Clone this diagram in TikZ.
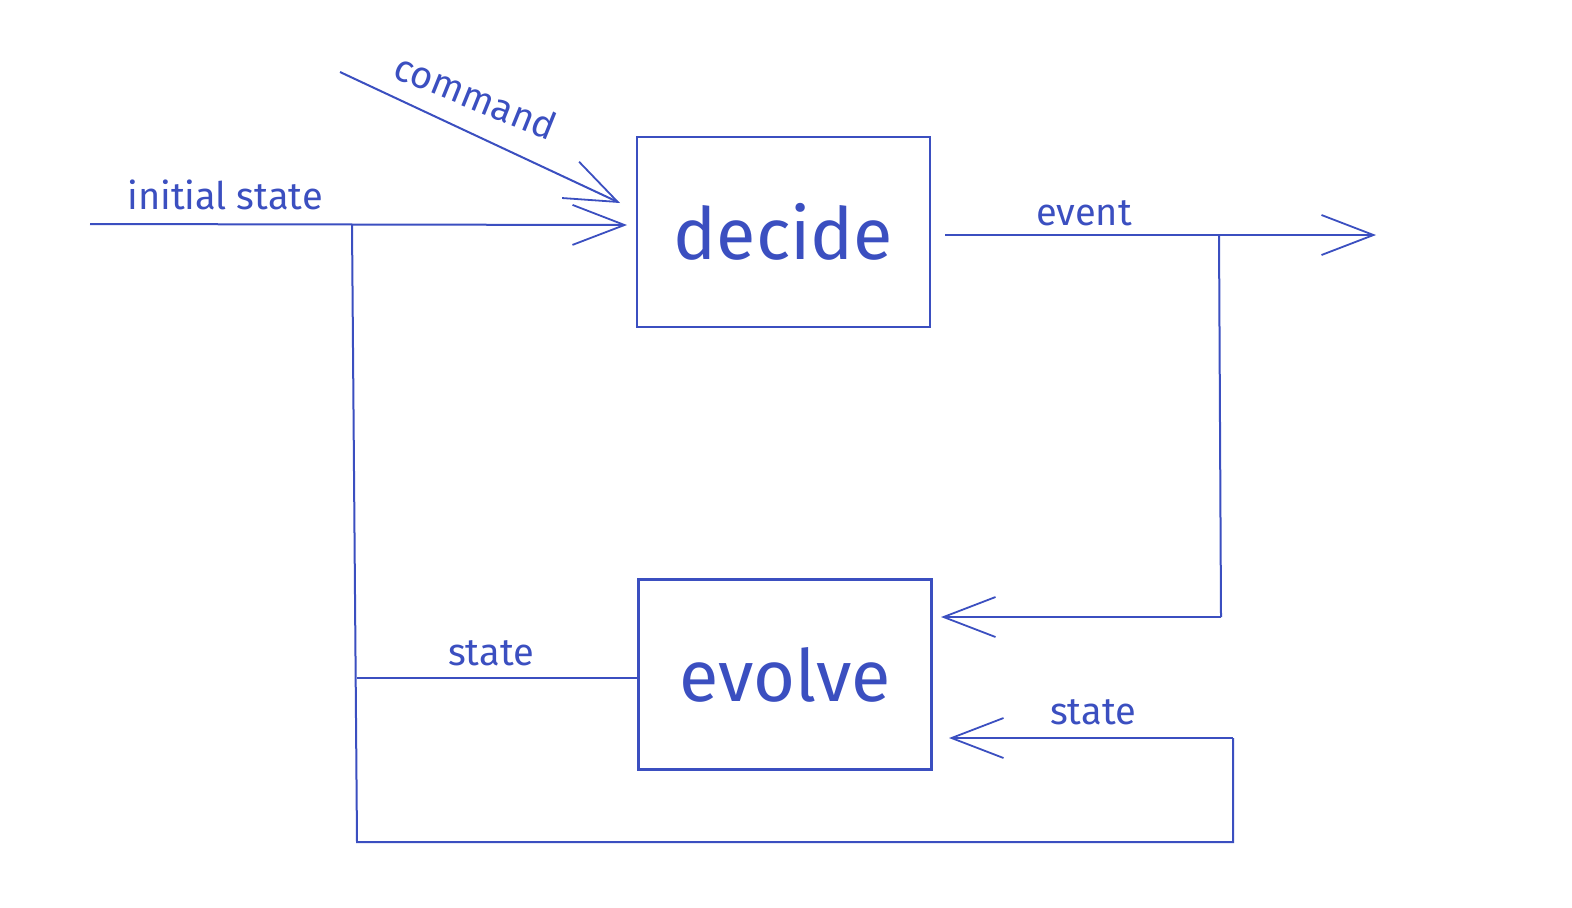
\documentclass[tikz,border=0pt]{standalone}
\usepackage{fontspec}
\setmainfont{Fira Sans}
\usetikzlibrary{arrows.meta}
\definecolor{ink}{HTML}{3B4FC0}
\begin{document}
\begin{tikzpicture}[x=0.5pt,y=-0.5pt,
  ln/.style={draw=ink,line width=1pt},
  arr/.style={ln,-{Straight Barb[length=26pt,width=20pt,line width=0.9pt]}},
  box/.style={draw=ink,line width=1.1pt,minimum width=146.5pt,minimum height=95pt,inner sep=0pt,font=\fontsize{36}{36}\selectfont,text=ink},
  lab/.style={text=ink,font=\fontsize{19}{19}\selectfont,inner sep=0pt}]
\useasboundingbox (0,0) rectangle (1572,907);
\node[box] (decide) at (783.5,232) {decide};
\node[box] (evolve) at (785,674.5) {evolve};
\coordinate (is0) at (90,224);
\coordinate (isj) at (352,225);
\coordinate (cmd0) at (340,72);
\coordinate (bl) at (357,842);
\coordinate (br) at (1233,842);
\coordinate (br2) at (1233,738);
\coordinate (ev0) at (945,235);
\coordinate (ev1) at (1376,235);
\coordinate (evj) at (1219,235);
\coordinate (evd) at (1221,617);
\coordinate (sl) at (357,678);
\draw[arr] (is0) -- (627,225);
\draw[arr] (cmd0) -- (620,203);
\draw[ln] (isj) -- (bl) -- (br) -- (br2);
\draw[arr] (br2) -- (949,738);
\draw[ln] (sl) -- (evolve.west |- sl);
\draw[arr] (ev0) -- (ev1);
\draw[ln] (evj) -- (evd);
\draw[arr] (evd) -- (941,617);
\node[lab] (l1) at (225,195) {initial state};
\node[lab,rotate=-22] (l2) at (476,96) {command};
\node[lab] (l3) at (1084,213) {event};
\node[lab] (l4) at (491,653) {state};
\node[lab] (l5) at (1093,712) {state};
\end{tikzpicture}
\end{document}
